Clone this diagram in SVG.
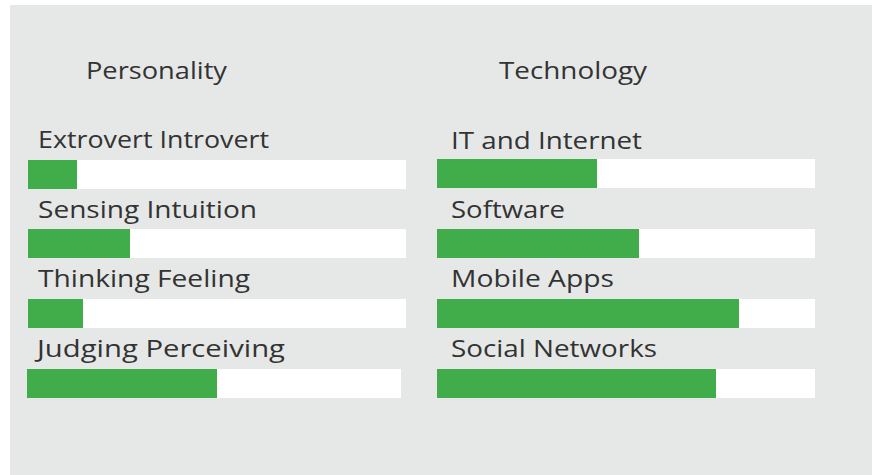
<svg xmlns="http://www.w3.org/2000/svg" width="872" height="475" viewBox="0 0 872 475">
<style>
text{font-family:"Open Sans","Liberation Sans",sans-serif;font-size:23px;fill:#333333;}
.track{fill:#ffffff;}
.fill{fill:#41ad4a;}
</style>
<rect x="0" y="0" width="872" height="475" fill="#ffffff"/>
<rect x="10" y="5" width="862" height="470" fill="#e6e8e7"/>
<g id="personality">
<text x="86" y="79" textLength="141" lengthAdjust="spacingAndGlyphs">Personality</text>
<g id="extrovert">
<text x="38" y="148" textLength="231" lengthAdjust="spacingAndGlyphs">Extrovert Introvert</text>
<rect class="track" x="28" y="160" width="378" height="29"/>
<rect class="fill" x="28" y="160" width="49" height="29"/>
</g>
<g id="sensing">
<text x="38" y="218" textLength="219" lengthAdjust="spacingAndGlyphs">Sensing Intuition</text>
<rect class="track" x="28" y="229" width="378" height="29"/>
<rect class="fill" x="28" y="229" width="102" height="29"/>
</g>
<g id="thinking">
<text x="38" y="287" textLength="212" lengthAdjust="spacingAndGlyphs">Thinking Feeling</text>
<rect class="track" x="28" y="299" width="378" height="29"/>
<rect class="fill" x="28" y="299" width="55" height="29"/>
</g>
<g id="judging">
<text x="37" y="357" textLength="248" lengthAdjust="spacingAndGlyphs">Judging Perceiving</text>
<rect class="track" x="27" y="369" width="374" height="29"/>
<rect class="fill" x="27" y="369" width="190" height="29"/>
</g>
</g>
<g id="technology">
<text x="499" y="79" textLength="148" lengthAdjust="spacingAndGlyphs">Technology</text>
<g id="it">
<text x="451" y="149" textLength="191" lengthAdjust="spacingAndGlyphs">IT and Internet</text>
<rect class="track" x="437" y="159" width="378" height="29"/>
<rect class="fill" x="437" y="159" width="160" height="29"/>
</g>
<g id="software">
<text x="451" y="218" textLength="114" lengthAdjust="spacingAndGlyphs">Software</text>
<rect class="track" x="437" y="229" width="378" height="29"/>
<rect class="fill" x="437" y="229" width="202" height="29"/>
</g>
<g id="mobile">
<text x="451" y="287" textLength="163" lengthAdjust="spacingAndGlyphs">Mobile Apps</text>
<rect class="track" x="437" y="299" width="378" height="29"/>
<rect class="fill" x="437" y="299" width="302" height="29"/>
</g>
<g id="social">
<text x="451" y="357" textLength="206" lengthAdjust="spacingAndGlyphs">Social Networks</text>
<rect class="track" x="437" y="369" width="378" height="29"/>
<rect class="fill" x="437" y="369" width="279" height="29"/>
</g>
</g>
<g id="connectors"></g>
</svg>
